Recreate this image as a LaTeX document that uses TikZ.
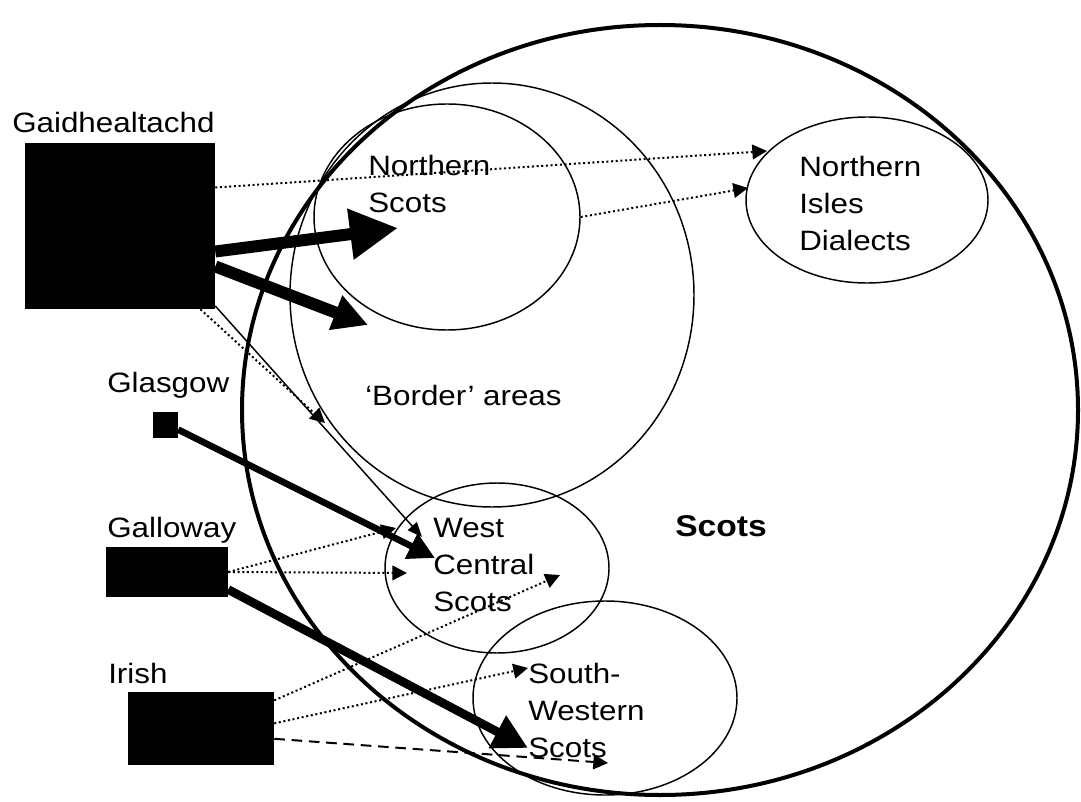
\documentclass[tikz,border=0pt]{standalone}
\usepackage{fontspec}
\setmainfont{Liberation Sans}[FakeStretch=1.12]
\usepackage{tikz}
\usetikzlibrary{arrows.meta,shapes.geometric}

\begin{document}
\begin{tikzpicture}[x=0.75pt,y=-0.75pt,
	txt/.style={anchor=north west,inner sep=0pt,align=left,font=\fontsize{21}{27.75}\selectfont},
	area/.style={ellipse,draw,line width=1.1pt,inner sep=0pt},
	src/.style={rectangle,fill=black,inner sep=0pt},
	dotarrow/.style={dotted,line width=1.5pt,-{Triangle[length=11pt,width=11pt]}},
	dasharrow/.style={dash pattern=on 8pt off 5pt,line width=1.5pt,-{Triangle[length=11pt,width=11pt]}},
	fatarrow/.style={line width=#1,-{Triangle[length=4*#1,width=4*#1]}}]
	\useasboundingbox (0,0) rectangle (1081,802);
	\node[area,line width=3pt,minimum width=627pt,minimum height=577.5pt] (scots) at (660,410) {};
	\node[area,minimum width=303pt,minimum height=318pt] (border) at (492,295) {};
	\node[area,minimum width=199.5pt,minimum height=169.5pt] (north) at (447,217) {};
	\node[area,minimum width=181.5pt,minimum height=124.5pt] (isles) at (867,200) {};
	\node[area,minimum width=168pt,minimum height=127.5pt] (west) at (497,568) {};
	\node[area,minimum width=198pt,minimum height=145.5pt] (south) at (605,698) {};
	\node[src,minimum width=142.5pt,minimum height=124.5pt] (gaid) at (120,226) {};
	\node[src,minimum width=18.75pt,minimum height=19.5pt] (glas) at (165.5,425) {};
	\node[src,minimum width=91.5pt,minimum height=37.5pt] (gall) at (167,572) {};
	\node[src,minimum width=109.5pt,minimum height=54.75pt] (irish) at (201,728.5) {};
	\node[txt] (lgaid) at (12,112) {Gaidhealtachd};
	\node[txt] (lglas) at (107,372) {Glasgow};
	\node[txt] (lgall) at (107,517) {Galloway};
	\node[txt] (lirish) at (108,663) {Irish};
	\node[txt] (lnorth) at (368,155) {Northern\\Scots};
	\node[txt] (lborder) at (365,385) {‘Border’ areas};
	\node[txt] (lisles) at (799,156) {Northern\\Isles\\Dialects};
	\node[txt] (lwest) at (433,518) {West\\Central\\Scots};
	\node[txt] (lsouth) at (528,663) {South-\\Western\\Scots};
	\node[txt,font=\fontsize{22.5}{27}\selectfont\bfseries] (lscots) at (675,515) {Scots};
	\coordinate (isles1) at (767,151);
	\coordinate (isles2) at (748,188);
	\coordinate (north1) at (398,228);
	\coordinate (border1) at (368,325);
	\coordinate (border2) at (325,423);
	\coordinate (west1) at (422,537);
	\coordinate (west2) at (435,558);
	\coordinate (west3) at (396,528);
	\coordinate (west4) at (407,573);
	\coordinate (west5) at (560,575);
	\coordinate (south1) at (528,748);
	\coordinate (south2) at (528,668);
	\coordinate (south3) at (608,763);
	\draw[dotarrow] (gaid.22) -- (isles1);
	\draw[dotarrow] (north.east) -- (isles2);
	\draw[fatarrow=9pt] (gaid.-15) -- (north1);
	\draw[line width=9pt,-{Triangle[length=26pt,width=26pt]}] (gaid.-23) -- (border1);
	\draw[dotarrow] (gaid.-46) -- (border2);
	\draw[line width=1.1pt,-{Triangle[length=11pt,width=9pt]}] (gaid.-40) -- (west1);
	\draw[fatarrow=5pt] (glas.-20) -- (west2);
	\draw[dotarrow] (gall.east) -- (west3);
	\draw[dotarrow] (gall.east) -- (west4);
	\draw[fatarrow=6.5pt] (gall.-16) -- (south1);
	\draw[dotarrow] (irish.21) -- (west5);
	\draw[dotarrow] (irish.4) -- (south2);
	\draw[dasharrow] (irish.-8) -- (south3);
\end{tikzpicture}
\end{document}
